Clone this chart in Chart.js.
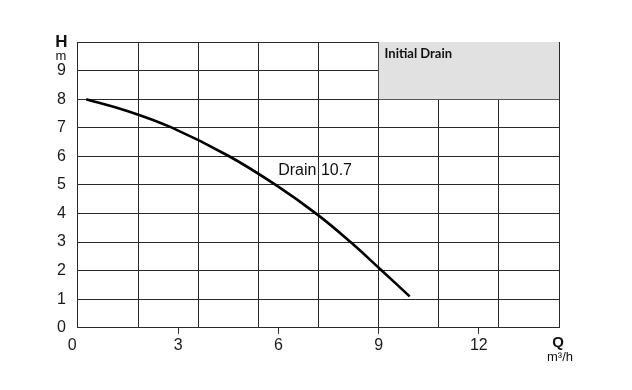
<!DOCTYPE html>
<html>
<head>
<meta charset="utf-8">
<script src="https://cdn.jsdelivr.net/npm/chart.js@4/dist/chart.umd.min.js"></script>
<style>
  html, body { margin: 0; padding: 0; background: #fff; }
  canvas { display: block; }
</style>
</head>
<body>
<canvas id="pumpChart" width="632" height="390"></canvas>
<script>
// pump curve (Q in m3/h, H in m)
const flowQ = [0.25, 1.5, 2.78, 4.5, 5.92, 7.17, 8.16, 9.06, 9.93];
const headH = [8.0, 7.58, 7.02, 6.02, 5.0, 3.96, 3.0, 2.04, 1.1];

const qGridTicks = [0, 1.8, 3.6, 5.4, 7.2, 9, 10.8, 12.6, 14.4];
const qLabelTicks = [0, 3, 6, 9, 12];
const hTicks = [0, 1, 2, 3, 4, 5, 6, 7, 8, 9, 10];

// shaded "Initial Drain" block in the top right corner
const boxQ = [9, 14.4];
const boxH = [8, 8];

const seriesName = "Drain 10.7";
const boxName = "Initial Drain";

const gridColor = "#2a2a2a";
const tickFont = { family: "'Liberation Sans', Arial, sans-serif", size: 16 };

const textPlugin = {
  id: "pumpText",
  afterDraw(chart) {
    const ctx = chart.ctx;
    const area = chart.chartArea;
    const x = chart.scales.x;
    const y = chart.scales.y;
    ctx.save();
    ctx.fillStyle = "#111";
    ctx.textAlign = "center";
    ctx.textBaseline = "middle";

    // axis names
    ctx.font = "bold 17px 'Liberation Sans', Arial, sans-serif";
    ctx.fillText("H", 61.5, area.top + 0.5);
    ctx.font = "13px 'Liberation Sans', Arial, sans-serif";
    ctx.fillText("m", 61, area.top + 14.5);
    ctx.font = "bold 15px 'Liberation Sans', Arial, sans-serif";
    ctx.fillText("Q", area.right - 1, area.bottom + 15);
    ctx.font = "13px 'Liberation Sans', Arial, sans-serif";
    ctx.fillText("m\u00b3/h", area.right + 1, area.bottom + 30);

    // curve name
    ctx.font = "16px 'Liberation Sans', Arial, sans-serif";
    ctx.fillText(seriesName, x.getPixelForValue(7.1), y.getPixelForValue(5.5));

    // box name
    ctx.textAlign = "left";
    ctx.font = "bold 13px Lato, 'Open Sans', sans-serif";
    ctx.fillText(boxName, x.getPixelForValue(boxQ[0]) + 6, area.top + 12);
    ctx.restore();
  }
};

const ctx = document.getElementById("pumpChart").getContext("2d");

new Chart(ctx, {
  type: "line",
  data: {
    datasets: [
      {
        label: boxName,
        data: boxQ.map((q, i) => ({ x: q, y: boxH[i] })),
        xAxisID: "x",
        yAxisID: "y",
        borderWidth: 0,
        borderColor: "rgba(0,0,0,0)",
        backgroundColor: "#e1e1e1",
        pointRadius: 0,
        fill: "end"
      },
      {
        label: seriesName,
        data: flowQ.map((q, i) => ({ x: q, y: headH[i] })),
        xAxisID: "x",
        yAxisID: "y",
        borderColor: "#000",
        borderWidth: 2.6,
        pointRadius: 0,
        fill: false,
        tension: 0.4
      }
    ]
  },
  options: {
    responsive: false,
    animation: false,
    layout: { padding: { left: 45, right: 73, top: 42, bottom: 33 } },
    plugins: {
      legend: { display: false },
      tooltip: { enabled: false },
      title: { display: false }
    },
    scales: {
      x: {
        type: "linear",
        position: "bottom",
        min: 0,
        max: 14.4,
        afterBuildTicks: (scale) => {
          scale.ticks = qLabelTicks.map((v) => ({ value: v }));
        },
        ticks: {
          font: tickFont,
          color: "#1a1a1a",
          padding: 2,
          maxRotation: 0,
          autoSkip: false,
          callback: (v) => (v === 0 ? "0\u2002\u2009" : String(v))
        },
        grid: {
          drawOnChartArea: false,
          tickLength: 6,
          tickColor: (c) => (c.tick && c.tick.value === 0 ? "rgba(0,0,0,0)" : gridColor)
        },
        border: { display: true, color: gridColor }
      },
      xg: {
        type: "linear",
        position: "top",
        min: 0,
        max: 14.4,
        afterBuildTicks: (scale) => {
          scale.ticks = qGridTicks.map((v) => ({ value: v }));
        },
        ticks: { display: false },
        grid: { color: gridColor, drawTicks: false },
        border: { display: false }
      },
      y: {
        type: "linear",
        min: 0,
        max: 10,
        afterBuildTicks: (scale) => {
          scale.ticks = hTicks.map((v) => ({ value: v }));
        },
        ticks: {
          font: tickFont,
          color: "#1a1a1a",
          padding: 12,
          callback: (v) => (v === 10 ? "" : String(v))
        },
        grid: { color: gridColor, drawTicks: false },
        border: { display: true, color: gridColor }
      }
    }
  },
  plugins: [textPlugin]
});
</script>
</body>
</html>
